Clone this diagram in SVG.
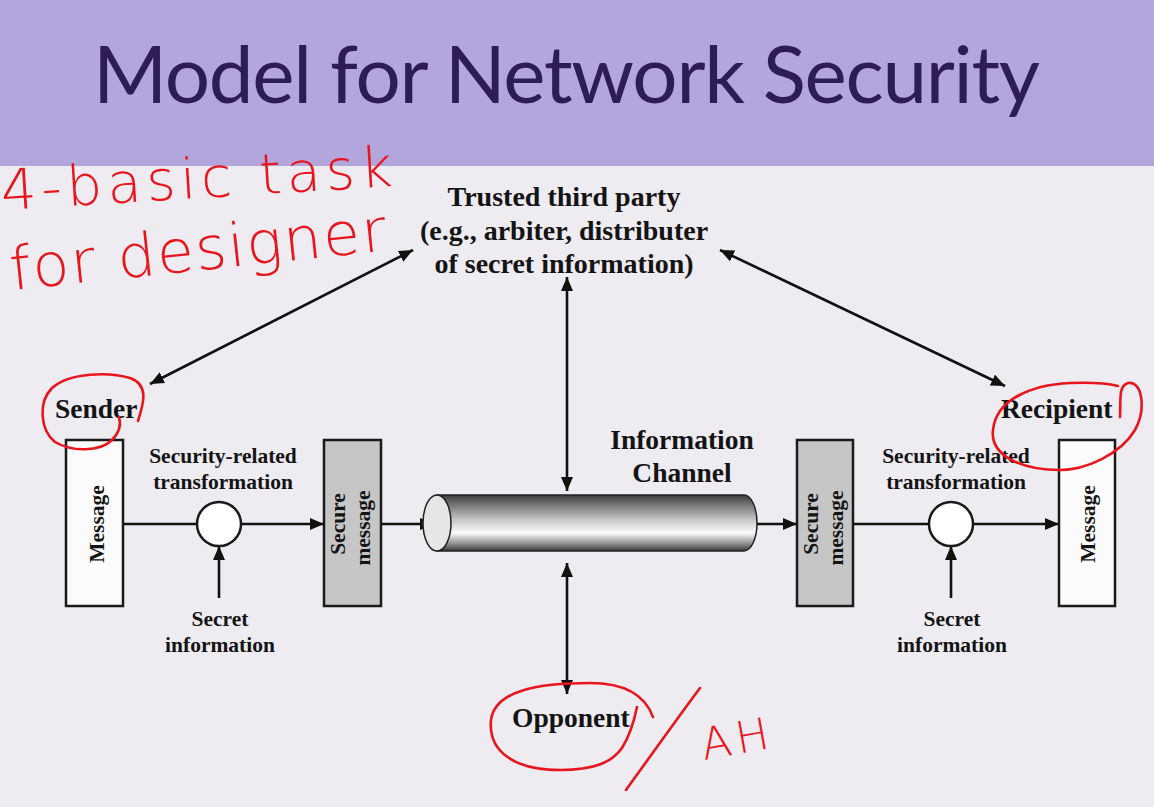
<svg xmlns="http://www.w3.org/2000/svg" width="1154" height="807" viewBox="0 0 1154 807">
  <style>
    .lbl { font-family: "Liberation Serif", "Times New Roman", serif; font-weight: bold; fill: #141414; }
    .big { font-size: 27.5px; }
    .mid { font-size: 21.5px; }
    .box { stroke: #1a1a1a; stroke-width: 2.5; }
    .wire { stroke: #111; stroke-width: 2.6; fill: none; }
    .ink { stroke: #e8161c; stroke-width: 2.6; fill: none; stroke-linecap: round; stroke-linejoin: round; }
    .hand { font-family: "DejaVu Sans", "Liberation Sans", sans-serif; font-weight: 200; fill: #e8161c; }
  </style>
  <defs>
    <marker id="ah" viewBox="0 0 14 12" refX="14" refY="6" markerWidth="14" markerHeight="12" orient="auto-start-reverse" markerUnits="userSpaceOnUse">
      <path d="M0,0 L14,6 L0,12 z" fill="#111"/>
    </marker>
    <linearGradient id="pipe" x1="0" y1="0" x2="0" y2="1">
      <stop offset="0" stop-color="#3c3c3c"/>
      <stop offset="0.15" stop-color="#6e6e6e"/>
      <stop offset="0.45" stop-color="#c9c9c9"/>
      <stop offset="0.68" stop-color="#fbfbfb"/>
      <stop offset="0.85" stop-color="#9a9a9a"/>
      <stop offset="1" stop-color="#3a3a3a"/>
    </linearGradient>
  </defs>

  <!-- slide background and title band -->
  <rect x="0" y="0" width="1154" height="807" fill="#eeebf1"/>
  <rect x="0" y="0" width="1154" height="166" fill="#b3a6dc"/>
  <text x="93" y="103" textLength="947" font-family="Lato, 'Open Sans', sans-serif" font-size="80" fill="#2d1c55">Model for Network Security</text>

  <!-- connectors -->
  <g id="connectors">
    <line class="wire" x1="123" y1="524" x2="197" y2="524"/>
    <line class="wire" x1="241" y1="524" x2="324" y2="524" marker-end="url(#ah)"/>
    <line class="wire" x1="219" y1="598" x2="219" y2="546" marker-end="url(#ah)"/>
    <line class="wire" x1="381" y1="524" x2="434" y2="524" marker-end="url(#ah)"/>
    <line class="wire" x1="755" y1="524" x2="797" y2="524" marker-end="url(#ah)"/>
    <line class="wire" x1="853" y1="524" x2="929" y2="524"/>
    <line class="wire" x1="973" y1="524" x2="1059" y2="524" marker-end="url(#ah)"/>
    <line class="wire" x1="951" y1="598" x2="951" y2="546" marker-end="url(#ah)"/>
    <line class="wire" x1="567" y1="277" x2="567" y2="491" marker-start="url(#ah)" marker-end="url(#ah)"/>
    <line class="wire" x1="567" y1="563" x2="567" y2="694" marker-start="url(#ah)" marker-end="url(#ah)"/>
    <line class="wire" x1="150" y1="384" x2="413" y2="250" marker-start="url(#ah)" marker-end="url(#ah)"/>
    <line class="wire" x1="720" y1="250" x2="1005" y2="386" marker-start="url(#ah)" marker-end="url(#ah)"/>
  </g>

  <!-- trusted third party -->
  <g id="trusted">
    <text class="lbl" x="564" y="206" font-size="28" text-anchor="middle">Trusted third party</text>
    <text class="lbl" x="564" y="240" font-size="28" text-anchor="middle">(e.g., arbiter, distributer</text>
    <text class="lbl" x="564" y="273" font-size="28" text-anchor="middle">of secret information)</text>
  </g>

  <!-- sender side -->
  <g id="sender">
    <text class="lbl big" x="55" y="418">Sender</text>
    <rect class="box" x="66" y="440" width="57" height="166" fill="#fcfbfb"/>
    <text class="lbl mid" text-anchor="middle" transform="translate(104,524) rotate(-90)">Message</text>
  </g>
  <g id="sender-transform">
    <text class="lbl mid" x="223" y="463" text-anchor="middle">Security-related</text>
    <text class="lbl mid" x="223" y="489" text-anchor="middle">transformation</text>
    <circle class="box" cx="219" cy="524" r="22" fill="#fff"/>
  </g>
  <g id="sender-secret">
    <text class="lbl mid" x="220" y="626" text-anchor="middle">Secret</text>
    <text class="lbl mid" x="220" y="652" text-anchor="middle">information</text>
  </g>
  <g id="sender-secure">
    <rect class="box" x="324" y="440" width="57" height="166" fill="#c6c6c6"/>
    <text class="lbl mid" text-anchor="middle" transform="translate(345,524) rotate(-90)">Secure</text>
    <text class="lbl mid" text-anchor="middle" transform="translate(370,528) rotate(-90)">message</text>
  </g>

  <!-- information channel -->
  <g id="channel">
    <path d="M437,495 L744,495 A13,28 0 0 1 744,551 L437,551 Z" fill="url(#pipe)" stroke="#222" stroke-width="1.5"/>
    <ellipse cx="437" cy="523" rx="14" ry="28" fill="#e6e6e6" stroke="#222" stroke-width="1.5"/>
    <text class="lbl big" x="682" y="449" text-anchor="middle">Information</text>
    <text class="lbl big" x="682" y="482" text-anchor="middle">Channel</text>
  </g>

  <!-- recipient side -->
  <g id="recipient-secure">
    <rect class="box" x="797" y="440" width="56" height="166" fill="#c6c6c6"/>
    <text class="lbl mid" text-anchor="middle" transform="translate(818,524) rotate(-90)">Secure</text>
    <text class="lbl mid" text-anchor="middle" transform="translate(843,528) rotate(-90)">message</text>
  </g>
  <g id="recipient-transform">
    <text class="lbl mid" x="956" y="463" text-anchor="middle">Security-related</text>
    <text class="lbl mid" x="956" y="489" text-anchor="middle">transformation</text>
    <circle class="box" cx="951" cy="524" r="22" fill="#fff"/>
  </g>
  <g id="recipient-secret">
    <text class="lbl mid" x="952" y="626" text-anchor="middle">Secret</text>
    <text class="lbl mid" x="952" y="652" text-anchor="middle">information</text>
  </g>
  <g id="recipient">
    <text class="lbl big" x="1001" y="418">Recipient</text>
    <rect class="box" x="1059" y="440" width="56" height="166" fill="#fcfbfb"/>
    <text class="lbl mid" text-anchor="middle" transform="translate(1095,524) rotate(-90)">Message</text>
  </g>

  <!-- opponent -->
  <g id="opponent">
    <text class="lbl big" x="512" y="727">Opponent</text>
  </g>

  <!-- red pen notes -->
  <g id="pen-notes">
    <text class="hand" font-size="56" textLength="392" transform="translate(2,210) rotate(-3.5)">4-basic task</text>
    <text class="hand" font-size="60" textLength="378" transform="translate(12,290) rotate(-6)">for designer</text>
    <path class="ink" d="M138,421 C143,405 150,385 130,378 C110,372 70,372 52,388 C38,402 40,430 55,442 C72,452 100,452 112,440 C120,432 121,424 119,417"/>
    <path class="ink" d="M1120,417 C1121,400 1118,386 1128,383 C1143,381 1146,410 1135,430 C1120,455 1085,470 1060,470 C1020,470 990,455 993,430 C996,400 1030,385 1070,383 C1095,382 1110,384 1118,386"/>
    <path class="ink" d="M653,717 C645,695 625,683 590,683 C540,683 495,690 491,720 C488,752 515,770 560,770 C595,770 612,762 622,748 C630,735 634,722 637,707"/>
    <path class="ink" d="M700,688 C682,712 662,740 626,790"/>
    <text class="hand" x="700" y="755" font-size="44" letter-spacing="5" transform="rotate(-10,730,735)">AH</text>
  </g>
</svg>
